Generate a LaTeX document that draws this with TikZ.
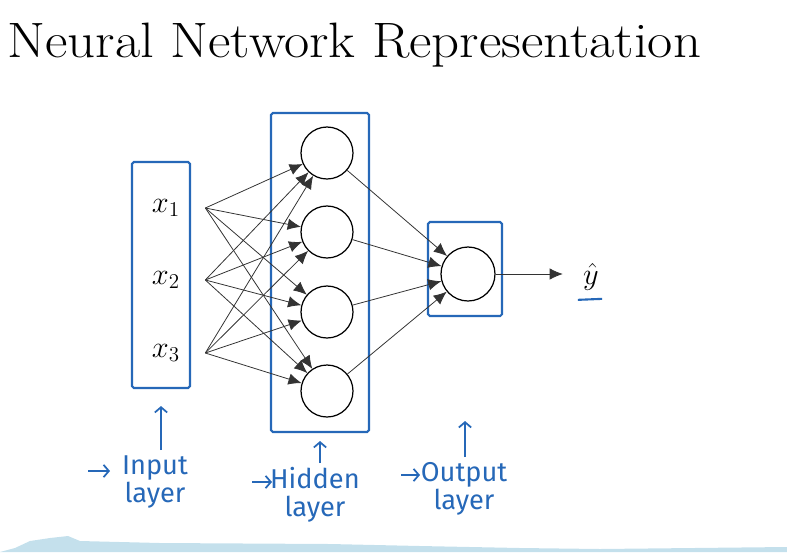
\documentclass[tikz,border=0pt]{standalone}
\usepackage{fontspec}
\newfontfamily\handfont{Fira Sans}
\usetikzlibrary{arrows.meta,calc,positioning}
\definecolor{pen}{RGB}{38,104,184}
\definecolor{band}{RGB}{196,224,236}
\tikzset{
  unit/.style={circle,draw=black,fill=white,minimum size=1.04cm,inner sep=0pt,line width=.7pt},
  feat/.style={inner sep=0pt,minimum width=1.56cm,font=\fontsize{17}{20}\selectfont},
  lyr/.style={rectangle,draw=pen,rounded corners=1pt,line width=1.2pt,inner sep=0pt},
  wgt/.style={-{Latex[length=7.5pt,width=6.5pt]},draw=black!80,line width=.45pt},
  tag/.style={-{Straight Barb[length=3pt,width=7pt]},draw=pen,line width=1pt},
  hw/.style={text=pen,font=\handfont\fontsize{15.5}{16}\selectfont,align=center,inner sep=0pt},
}
\begin{document}
\begin{tikzpicture}[x=0.02cm,y=-0.02cm]
\useasboundingbox (0,0) rectangle (787,552);
\fill[band] (0,552) -- (15,548) -- (30,541) -- (50,538) -- (68,536) -- (80,541)
  -- (160,543) -- (330,544) -- (420,546) -- (520,548) -- (600,549) -- (787,547) -- (787,552) -- cycle;
\node[anchor=base west,inner sep=0pt,font=\fontsize{28.3}{34}\selectfont] (title) at (7,57)
  {\scalebox{1.104}[1]{Neural Network Representation}};
% layers
\node[lyr,minimum width=1.16cm,minimum height=4.52cm] (inbox) at (161,275) {};
\node[lyr,minimum width=1.96cm,minimum height=6.38cm] (hidbox) at (320,272.5) {};
\node[lyr,minimum width=1.48cm,minimum height=1.88cm] (outbox) at (465,269) {};
\node[feat] (x1) at (166,208) {$x_1$};
\node[feat] (x2) at (166,280) {$x_2$};
\node[feat] (x3) at (166,353) {$x_3$};
\node[unit] (h1) at (327,153) {};
\node[unit] (h2) at (327,232) {};
\node[unit] (h3) at (327,312) {};
\node[unit] (h4) at (327,391) {};
\node[unit,minimum size=1.08cm] (o) at (468,274) {};
\node[inner sep=0pt,font=\fontsize{17}{20}\selectfont] (yhat) at (591,277) {$\hat{y}$};
\foreach \i in {1,2,3}
  \foreach \j in {1,...,4}
    \draw[wgt] (x\i.east) -- (h\j);
\foreach \j in {1,...,4}
  \draw[wgt] (h\j) -- (o);
\draw[wgt,shorten >=0.4cm] (o) -- (o -| yhat.west);
\draw[draw=pen,line width=1.2pt] ([xshift=-0.1cm,yshift=-0.18cm]yhat.south west) -- ([xshift=0.06cm,yshift=-0.16cm]yhat.south east);
% handwritten notes
\node[hw,anchor=north] (inlbl) at (155,455) {Input\\layer};
\node[hw,anchor=north] (hidlbl) at (315,467) {Hidden\\layer};
\node[hw,anchor=north] (outlbl) at (464,462) {Output\\layer};
\draw[tag,shorten <=0.1cm,shorten >=0.34cm] (inlbl.north -| inbox.south) -- (inbox.south);
\draw[tag,shorten <=0.08cm,shorten >=0.16cm] (hidlbl.north -| hidbox.south) -- (hidbox.south);
\draw[tag,shorten <=0.1cm,shorten >=2.08cm] (outlbl.north -| outbox.south) -- (outbox.south);
\coordinate (inmark) at (88,471);
\coordinate (hidmark) at (252,482);
\coordinate (outmark) at (401,475);
\draw[tag] (inmark) -- ++(22,0);
\draw[tag] (hidmark) -- ++(20,0);
\draw[tag] (outmark) -- ++(19,0);
\end{tikzpicture}
\end{document}
